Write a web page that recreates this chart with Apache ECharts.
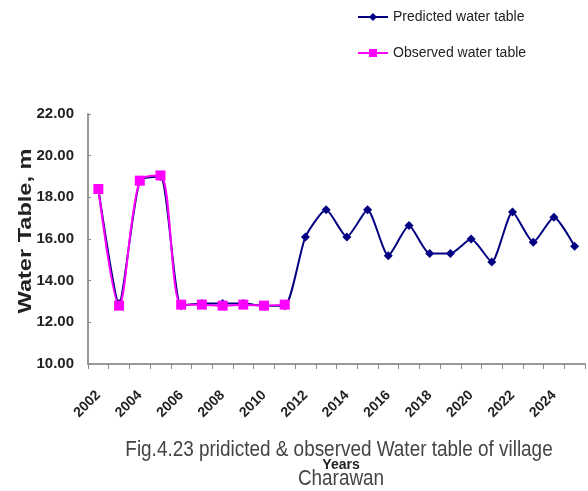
<!DOCTYPE html>
<html><head><meta charset="utf-8">
<script src="https://cdn.jsdelivr.net/npm/echarts@6/dist/echarts.min.js"></script>
<style>html,body{margin:0;padding:0;background:#fff}#c{width:588px;height:491px}</style>
</head><body><div id="c"></div>
<script>
const years = ['2002','2003','2004','2005','2006','2007','2008','2009','2010','2011','2012','2013','2014','2015','2016','2017','2018','2019','2020','2021','2022','2023','2024','2025'];
const predicted = [18.4,12.9,18.8,19.0,12.8,12.9,12.9,12.9,12.8,12.8,16.1,17.4,16.1,17.4,15.2,16.65,15.3,15.3,16.0,14.9,17.3,15.85,17.05,15.65];
const observed = [18.4,12.8,18.8,19.05,12.85,12.85,12.8,12.85,12.8,12.85];
const yTicks = {min:10, max:22, interval:2};
const chart = echarts.init(document.getElementById('c'));
const sans = '"Liberation Sans", Arial, sans-serif';
chart.setOption({
  animation:false,
  grid:{left:88, right:3, top:114, bottom:127},
  legend:{
    orient:'vertical', left:352, top:5, itemGap:22, itemWidth:30, itemHeight:10,
    textStyle:{fontFamily:sans, fontSize:14, color:'#222'},
    data:['Predicted water table','Observed water table']
  },
  xAxis:{
    type:'category', data:years, boundaryGap:true,
    axisLine:{lineStyle:{color:'#999', width:2}},
    axisTick:{show:true, interval:0, alignWithLabel:false, length:5, lineStyle:{color:'#888'}},
    axisLabel:{interval:1, rotate:45, fontFamily:sans, fontWeight:'bold', fontSize:14, color:'#222', margin:29}
  },
  yAxis:{
    type:'value', min:yTicks.min, max:yTicks.max, interval:yTicks.interval,
    axisLine:{show:true, lineStyle:{color:'#999', width:2}},
    axisTick:{show:true, inside:true, length:3, lineStyle:{color:'#888'}},
    splitLine:{show:false},
    axisLabel:{formatter:v=>v.toFixed(2), fontFamily:sans, fontWeight:'bold', fontSize:15, color:'#222', margin:14}
  },
  graphic:[
    {type:'text', x:26, y:231, rotation:Math.PI/2, scaleX:1.24,
     style:{text:'Water Table, m', textAlign:'center', textVerticalAlign:'middle', font:'bold 19px '+sans, fill:'#222'}},
    {type:'text', x:339, y:450, scaleX:0.86,
     style:{text:'Fig.4.23 pridicted & observed Water table of village', textAlign:'center', textVerticalAlign:'middle', font:'22px '+sans, fill:'#444'}},
    {type:'text', x:341, y:479, scaleX:0.86,
     style:{text:'Charawan', textAlign:'center', textVerticalAlign:'middle', font:'22px '+sans, fill:'#444'}},
    {type:'text', x:341, y:465, z:100,
     style:{text:'Years', textAlign:'center', textVerticalAlign:'middle', font:'bold 14px '+sans, fill:'#222'}}
  ],
  series:[
    {name:'Predicted water table', type:'line', data:predicted, smooth:0.2,
     symbol:'diamond', symbolSize:9, itemStyle:{color:'#000080'}, lineStyle:{color:'#000080', width:2}, z:2},
    {name:'Observed water table', type:'line', data:observed, smooth:0.3,
     symbol:'rect', symbolSize:10, itemStyle:{color:'#FF00FF'}, lineStyle:{color:'#FF00FF', width:2}, z:3}
  ]
});
</script></body></html>
